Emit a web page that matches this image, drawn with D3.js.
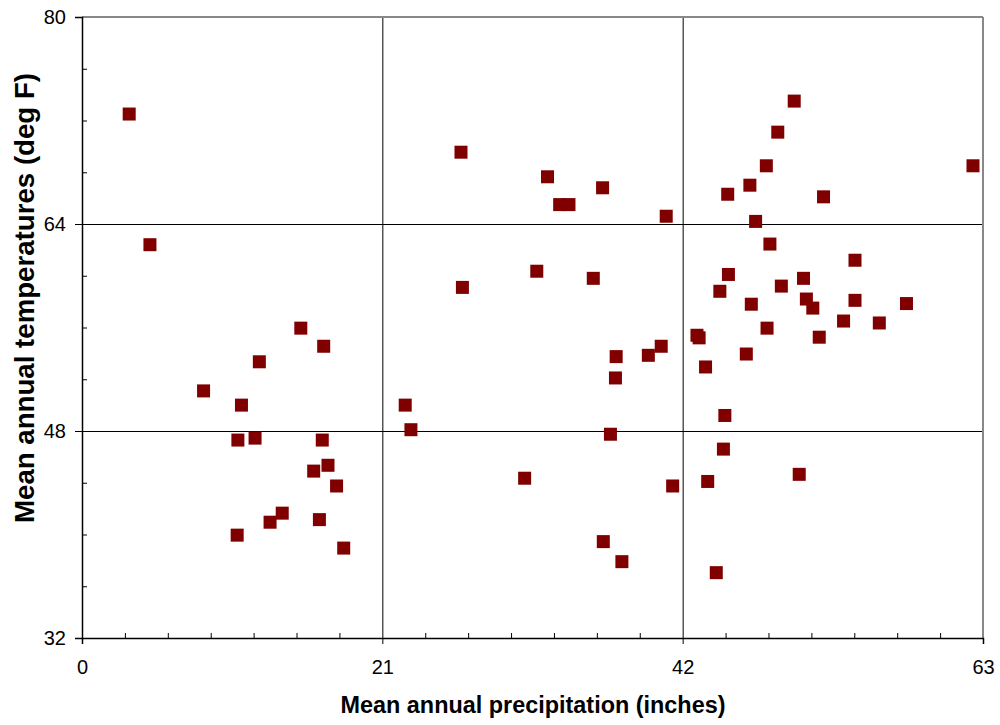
<!DOCTYPE html>
<html>
<head>
<meta charset="utf-8">
<script src="https://cdn.jsdelivr.net/npm/d3@7"></script>
<style>
    body { margin: 0; background: #fff; }
    svg { display: block; font-family: "Liberation Sans", Arial, sans-serif; }
</style>
</head>
<body>
<div id="chart"></div>
<script>
// precipitation (inches) and temperature (deg F)
const precip = [
    3.3, 4.75, 8.5, 11.15, 12.4, 15.3, 16.9, 10.9, 12.1, 16.8,
    17.2, 16.2, 17.8, 14.0, 13.15, 16.6, 10.85, 18.3,
    22.6, 23.0, 26.5, 26.6, 30.95, 31.8, 32.55, 33.4, 34.05, 35.75,
    36.4, 36.45, 36.95, 37.3, 37.35, 37.75, 39.6, 40.5, 40.85, 41.3,
    43.0, 43.15, 43.6, 43.75, 44.35, 44.6, 44.85, 44.95, 45.15, 45.2,
    46.45, 46.7, 46.8, 47.1, 47.85, 47.9, 48.1, 48.65, 48.9, 49.8,
    50.15, 50.45, 50.65, 51.1, 51.55, 51.85, 53.25, 54.05, 54.05, 55.75,
    57.65, 62.3
];
const temps = [
    72.5, 62.4, 51.1, 50.0, 53.35, 55.95, 54.55, 47.3, 47.45, 47.3,
    45.35, 44.9, 43.75, 41.65, 40.95, 41.15, 39.95, 38.95,
    50.0, 48.1, 69.55, 59.1, 44.35, 60.35, 67.65, 65.5, 65.5, 59.8,
    66.8, 39.45, 47.75, 52.1, 53.75, 37.9, 53.85, 54.55, 64.6, 43.75,
    55.4, 55.2, 52.95, 44.1, 37.05, 58.8, 46.6, 49.2, 66.3, 60.1,
    53.95, 67.0, 57.8, 64.2, 68.5, 55.95, 62.45, 71.1, 59.2, 73.5,
    44.65, 59.8, 58.2, 57.5, 55.25, 66.1, 56.5, 61.2, 58.1, 56.35,
    57.85, 68.5
];
const xMajor = [0, 21, 42, 63];
const xMinor = d3.range(0, 63, 3).filter(v => v % 21 !== 0);
const yMajor = [32, 48, 64, 80];
const yMinor = d3.range(32, 80, 4).filter(v => v % 16 !== 0);

const width = 1000, height = 725;
const margin = { top: 17, right: 17, bottom: 87, left: 82 };

const svg = d3.select('#chart').append('svg')
    .attr('width', width)
    .attr('height', height);

const x = d3.scaleLinear().domain([0, 63]).range([margin.left, width - margin.right]);
const y = d3.scaleLinear().domain([32, 80]).range([height - margin.bottom, margin.top]);

// gridlines
svg.append('g')
    .selectAll('line')
    .data([21, 42])
    .join('line')
    .attr('x1', d => x(d) + 0.5).attr('x2', d => x(d) + 0.5)
    .attr('y1', y(80)).attr('y2', y(32))
    .attr('stroke', '#000').attr('stroke-width', 1);

svg.append('g')
    .selectAll('line')
    .data([48, 64])
    .join('line')
    .attr('y1', d => y(d) + 0.5).attr('y2', d => y(d) + 0.5)
    .attr('x1', x(0)).attr('x2', x(63))
    .attr('stroke', '#000').attr('stroke-width', 1);

// top and right frame (gray)
svg.append('line')
    .attr('x1', x(0)).attr('x2', x(63))
    .attr('y1', y(80)).attr('y2', y(80))
    .attr('stroke', '#888').attr('stroke-width', 2);
svg.append('line')
    .attr('x1', x(63)).attr('x2', x(63))
    .attr('y1', y(80)).attr('y2', y(32))
    .attr('stroke', '#888').attr('stroke-width', 2);

// x axis
svg.append('g')
    .attr('transform', `translate(0,${y(32)})`)
    .call(d3.axisBottom(x).tickValues(xMajor).tickSize(6).tickPadding(16).tickFormat(d3.format('d')));
svg.append('g')
    .attr('transform', `translate(0,${y(32)})`)
    .call(d3.axisBottom(x).tickValues(xMinor).tickSize(-5).tickFormat(''))
    .call(g => g.select('.domain').remove());

// y axis
svg.append('g')
    .attr('transform', `translate(${x(0)},0)`)
    .call(d3.axisLeft(y).tickValues(yMajor).tickSize(7).tickPadding(9).tickFormat(d3.format('d')));
svg.append('g')
    .attr('transform', `translate(${x(0)},0)`)
    .call(d3.axisLeft(y).tickValues(yMinor).tickSize(-5).tickFormat(''))
    .call(g => g.select('.domain').remove());

svg.selectAll('.tick line').attr('stroke', '#000');
svg.selectAll('.domain').attr('stroke', '#000').attr('stroke-width', 1.5);
svg.selectAll('.tick text')
    .attr('font-family', '"Liberation Sans", Arial, sans-serif')
    .attr('font-size', 20)
    .attr('fill', '#000');

// points
const size = 13;
svg.append('g')
    .selectAll('rect')
    .data(d3.zip(precip, temps))
    .join('rect')
    .attr('x', d => x(d[0]) - size / 2)
    .attr('y', d => y(d[1]) - size / 2)
    .attr('width', size)
    .attr('height', size)
    .attr('fill', '#800000');

// axis titles
svg.append('text')
    .attr('x', 533)
    .attr('y', 713)
    .attr('text-anchor', 'middle')
    .attr('font-size', 23)
    .attr('font-weight', 'bold')
    .attr('textLength', 385)
    .attr('lengthAdjust', 'spacingAndGlyphs')
    .text('Mean annual precipitation (inches)');

svg.append('text')
    .attr('transform', 'translate(34,298) rotate(-90)')
    .attr('text-anchor', 'middle')
    .attr('font-size', 27)
    .attr('font-weight', 'bold')
    .attr('textLength', 450)
    .attr('lengthAdjust', 'spacingAndGlyphs')
    .text('Mean annual temperatures (deg F)');
</script>
</body>
</html>
